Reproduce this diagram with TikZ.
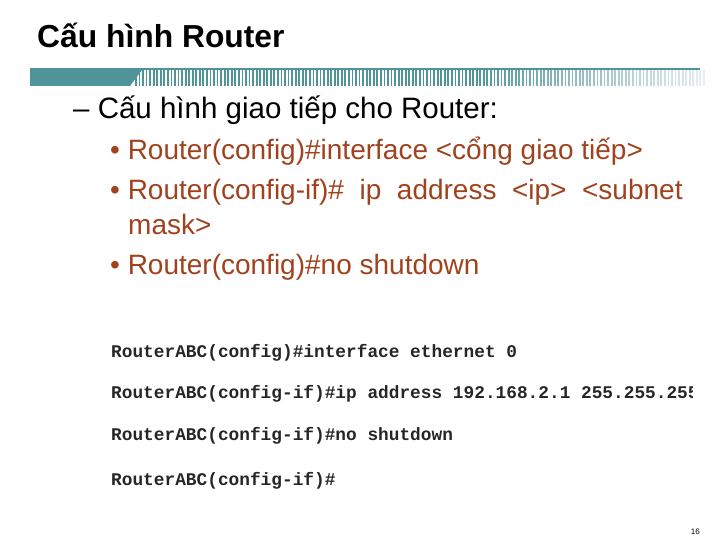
\documentclass[tikz,border=0pt]{standalone}
\usepackage{fontspec}
\setmainfont{Liberation Sans}
\newfontfamily\codefont{Liberation Mono}
\definecolor{teal1}{HTML}{4E9499}
\definecolor{bul}{HTML}{A0421E}
\begin{document}
\begin{tikzpicture}[x=1pt,y=-1pt,
  txt/.style={anchor=base west,inner sep=0,font=\fontsize{28}{30}\selectfont},
  code/.style={anchor=base west,inner sep=0,font=\codefont\bfseries\fontsize{17.8}{20}\selectfont,text=black!85}]
\useasboundingbox (0,0) rectangle (720,540);
\node[anchor=base west,inner sep=0,font=\bfseries\fontsize{31.8}{34}\selectfont] (title) at (37,48) {Cấu hình Router};
% header bar
\fill[teal1] (30,68) rectangle (700,70);
\fill[teal1] (30,70) rectangle (130,86);
\fill[teal1] (130,86) -- (130,70) -- (142,70) -- cycle;
\foreach \i in {0,...,160} {
  \pgfmathsetmacro{\op}{1-0.85*max(0,(\i-95)/65)}
  \fill[teal1,opacity=\op] ({135+3.55*\i},70) rectangle ({136.8+3.55*\i},86);
}
\node[txt,font=\fontsize{29.5}{32}\selectfont] (h) at (73,119) {– Cấu hình giao tiếp cho Router:};
\node[txt,text=bul] (b1) at (110,160) {• Router(config)\#interface <cổng giao tiếp>};
\node[txt,text=bul] (b2) at (110,200) {• Router(config-if)\#\ \ ip\ \ address\ \ <ip>\ \ <subnet};
\node[txt,text=bul] (b2b) at (128,234) {mask>};
\node[txt,text=bul] (b3) at (110,274) {• Router(config)\#no shutdown};
\begin{scope}
\clip (100,330) rectangle (692,500);
\node[code] (c1) at (111,357) {RouterABC(config)\#interface ethernet 0};
\node[code] (c2) at (111,398) {RouterABC(config-if)\#ip address 192.168.2.1 255.255.255.0};
\node[code] (c3) at (111,440) {RouterABC(config-if)\#no shutdown};
\node[code] (c4) at (111,485) {RouterABC(config-if)\#};
\end{scope}
\node[anchor=base east,inner sep=0,font=\fontsize{8}{9}\selectfont] (pg) at (700,534) {16};
\end{tikzpicture}
\end{document}
